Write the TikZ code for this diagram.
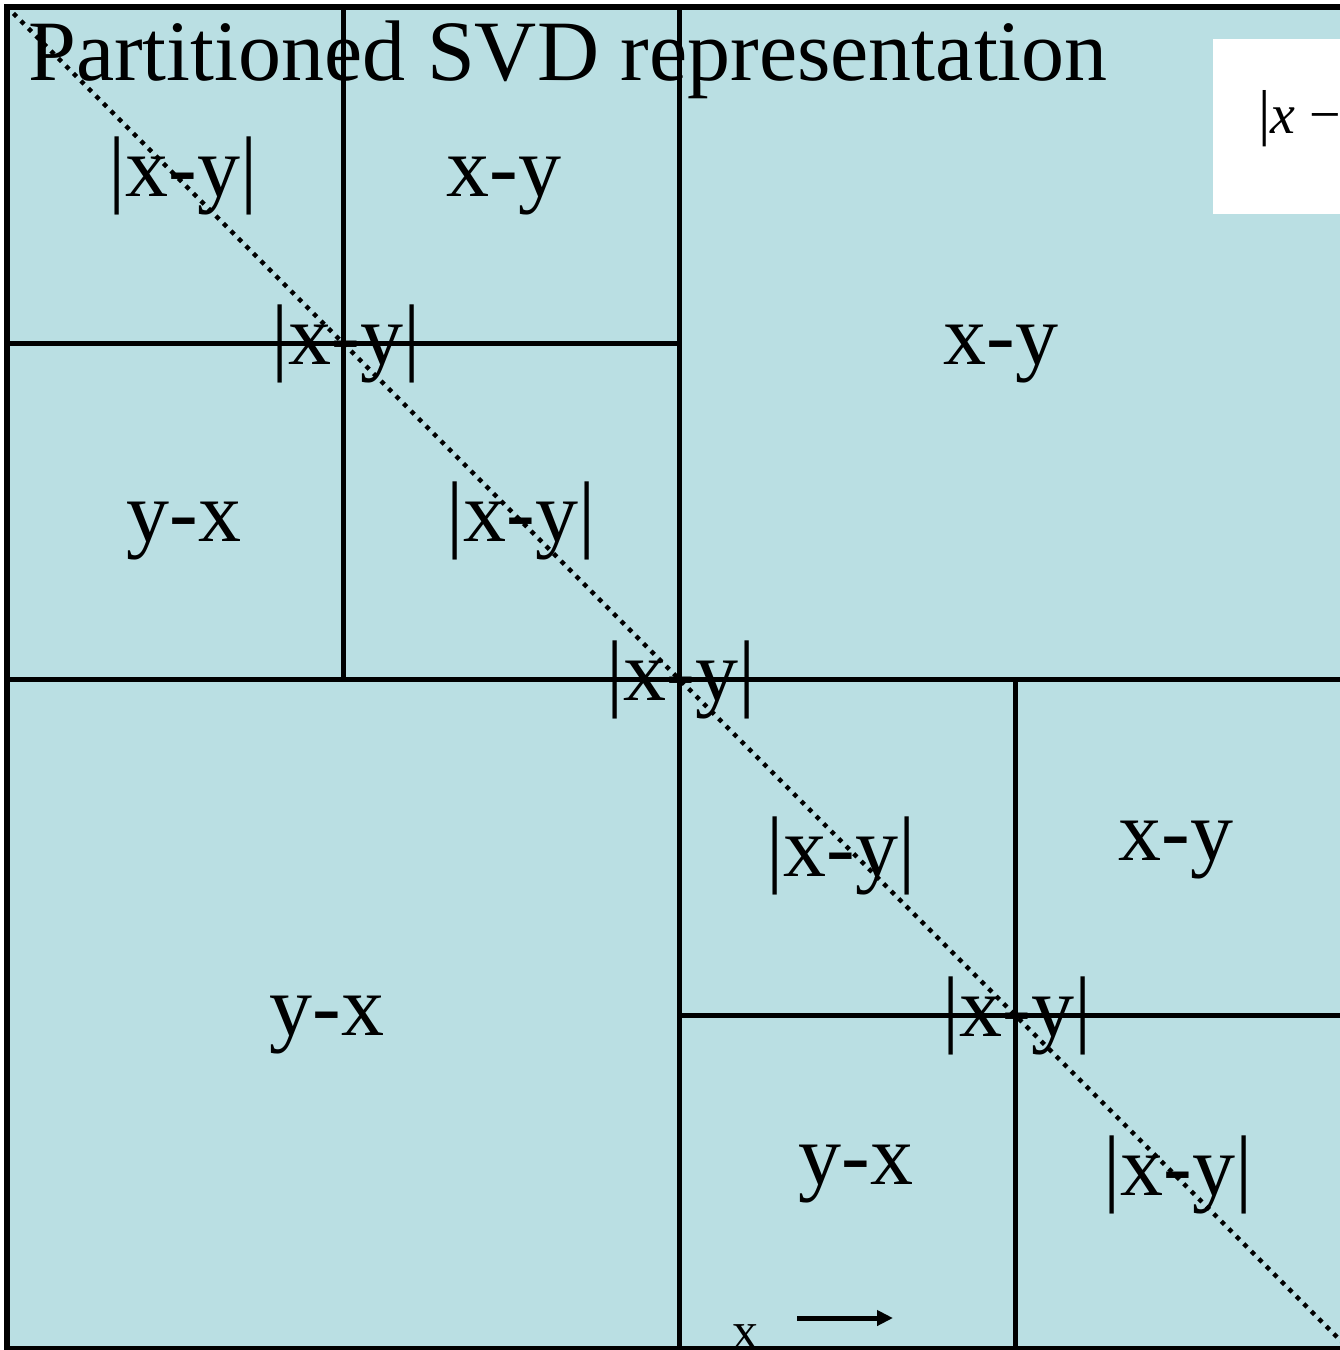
\documentclass[tikz,border=0pt]{standalone}
\usepackage{fontspec}
\setmainfont{Liberation Serif}
\usetikzlibrary{arrows.meta}
\definecolor{cellblue}{RGB}{186,223,227}
\begin{document}
\begin{tikzpicture}[x=1pt,y=-1pt]
		\tikzstyle{lbl}=[anchor=base,inner sep=0pt,font=\fontsize{86}{90}\selectfont]
		\tikzstyle{grid}=[line width=5pt]

		\useasboundingbox (0,0) rectangle (1340,1350);
		\clip (0,0) rectangle (1340,1350);

		\fill[cellblue] (7,7) rectangle (1351,1351);
		\fill[white] (1213,39) rectangle (1360,214);
		\node[anchor=base west,inner sep=0pt,font=\fontsize{56}{56}\selectfont] (formula) at (1258,133) {{\fontsize{62}{62}\selectfont|}\textit{x} −};

		% title
		\node[anchor=base west,inner sep=0pt,font=\fontsize{86}{90}\selectfont] (title) at (28,80) {Partitioned SVD representation};

		% labels of the blocks
		\node[lbl] (a11) at (183,196) {|x-y|};
		\node[lbl] (a12) at (504,196) {x-y};
		\node[lbl] (d1) at (346,364) {|x-y|};
		\node[lbl] (a21) at (184,541) {y-x};
		\node[lbl] (a22) at (521,541) {|x-y|};
		\node[lbl] (up) at (1001,364) {x-y};
		\node[lbl] (d2) at (681,700) {|x-y|};
		\node[lbl] (low) at (327,1035) {y-x};
		\node[lbl] (a33) at (841,876) {|x-y|};
		\node[lbl] (a34) at (1176,860) {x-y};
		\node[lbl] (d3) at (1017,1036) {|x-y|};
		\node[lbl] (a43) at (856,1184) {y-x};
		\node[lbl] (a44) at (1178,1195) {|x-y|};

		% partition lines
		\draw[grid] (7,343) -- (679,343);
		\draw[grid] (343,7) -- (343,679);
		\draw[grid] (679,7) -- (679,1351);
		\draw[grid] (7,679) -- (1351,679);
		\draw[grid] (1015,679) -- (1015,1351);
		\draw[grid] (679,1015) -- (1351,1015);
		\draw[line width=6pt] (7,7) rectangle (1351,1349);

		% diagonal
		\draw[line width=4.5pt,line cap=rect,dash pattern=on 0.01pt off 10.6pt] (15,15) -- (1351,1351);

		% x axis
		\node[anchor=base,inner sep=0pt,font=\fontsize{52}{52}\selectfont] (xlbl) at (745,1348) {x};
		\coordinate (xa) at (797,1318);
		\coordinate (xb) at (893,1318);
		\draw[line width=5pt,-{Triangle[length=16pt,width=15pt]}] (xa) -- (xb);
	\end{tikzpicture}
\end{document}
